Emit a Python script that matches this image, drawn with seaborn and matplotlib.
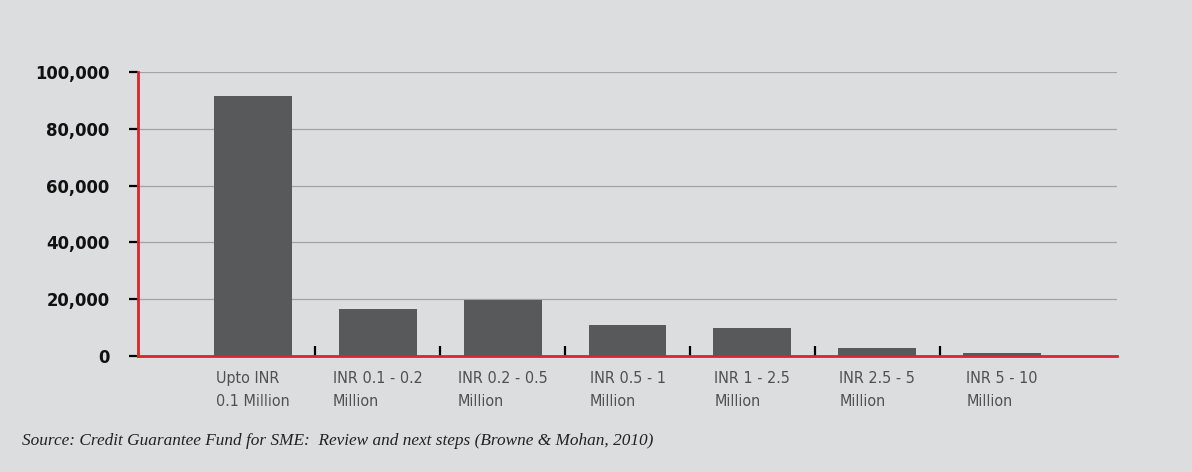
import pandas as pd
import numpy as np
import matplotlib
matplotlib.use("Agg")
import matplotlib.pyplot as plt
from matplotlib.ticker import FixedLocator, FuncFormatter
import seaborn as sns

# Loan size buckets and number of guarantees
categories = [
    "Upto INR\n0.1 Million",
    "INR 0.1 - 0.2\nMillion",
    "INR 0.2 - 0.5\nMillion",
    "INR 0.5 - 1\nMillion",
    "INR 1 - 2.5\nMillion",
    "INR 2.5 - 5\nMillion",
    "INR 5 - 10\nMillion",
]
guarantees = [91400, 16600, 19800, 10900, 9900, 2800, 1100]
y_ticks = [0, 20000, 40000, 60000, 80000, 100000]
source_note = "Source: Credit Guarantee Fund for SME:  Review and next steps (Browne & Mohan, 2010)"

BG = "#dcdddf"
BAR = "#58595b"
RED = "#d8262e"


def main():
    sns.set_theme(style="white")
    plt.rcParams["font.family"] = ["DejaVu Sans"]
    plt.rcParams["font.stretch"] = "condensed"

    df = pd.DataFrame({"bucket": categories, "count": guarantees})

    fig = plt.figure(figsize=(11.92, 4.72), dpi=100, facecolor=BG)
    ax = fig.add_axes([138 / 1192, 1 - 356 / 472, (1117 - 138) / 1192, (356 - 72) / 472])
    ax.set_facecolor(BG)

    sns.barplot(data=df, x="bucket", y="count", color=BAR, width=0.624,
                saturation=1, linewidth=0, ax=ax, zorder=3)

    ax.set_xlim(-0.92, len(categories) - 1 + 0.92)
    ax.set_ylim(0, 100000)

    # horizontal gridlines
    ax.set_yticks(y_ticks)
    ax.yaxis.set_major_formatter(FuncFormatter(lambda v, p: f"{int(v):,}"))
    ax.grid(axis="y", color="#a3a3a3", linewidth=0.9, zorder=0)
    ax.grid(axis="x", visible=False)
    ax.set_axisbelow(True)

    for side in ["top", "right"]:
        ax.spines[side].set_visible(False)
    for side in ["left", "bottom"]:
        ax.spines[side].set_color(RED)
        ax.spines[side].set_linewidth(2.0)
        ax.spines[side].set_zorder(5)

    ax.tick_params(axis="y", which="major", length=6.5, width=1.6, color="black",
                   pad=14, labelsize=13.2, labelcolor="#111111", left=True)
    for lbl in ax.get_yticklabels():
        lbl.set_fontweight("bold")

    # category labels without ticks, small separators between the bars
    ax.tick_params(axis="x", which="major", length=0, pad=11, labelsize=11.5,
                   labelcolor="#505050")
    for lbl in ax.get_xticklabels():
        lbl.set_multialignment("left")
        lbl.set_linespacing(1.65)
    ax.xaxis.set_minor_locator(FixedLocator(np.arange(0.5, len(categories) - 1, 1.0)))
    ax.tick_params(axis="x", which="minor", direction="in", length=7, width=1.6,
                   color="black", bottom=True)

    ax.set_xlabel("")
    ax.set_ylabel("")

    fig.text(22 / 1192, 1 - 441 / 472, source_note, family=["Liberation Serif", "DejaVu Serif"],
             fontstretch="normal", style="italic", fontsize=12.4, color="#222222",
             va="center", ha="left")

    fig.savefig("out.png", dpi=100, facecolor=BG)
    plt.close(fig)


if __name__ == "__main__":
    main()
